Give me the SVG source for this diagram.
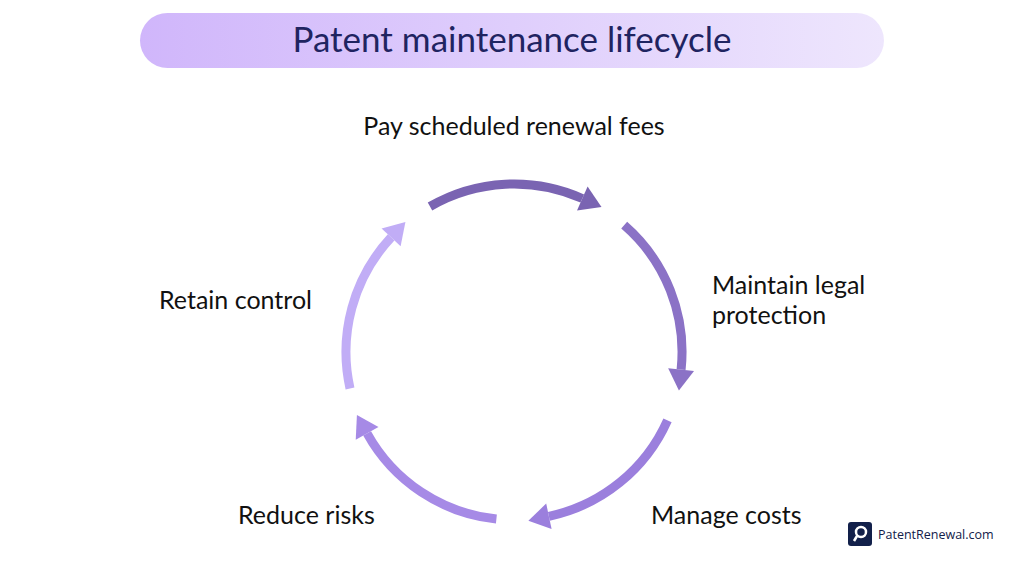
<svg xmlns="http://www.w3.org/2000/svg" width="1024" height="568" viewBox="0 0 1024 568">
<defs>
<linearGradient id="tg" x1="0" y1="0" x2="1" y2="0"><stop offset="0" stop-color="#d0b6fb"/><stop offset="1" stop-color="#eee6fd"/></linearGradient>
<marker id="a1" markerUnits="userSpaceOnUse" markerWidth="30" markerHeight="30" viewBox="0 -15 22 30" refX="0" refY="0" orient="auto" overflow="visible"><path d="M0,-13 L21,0 L0,13 z" fill="#7a64b2"/></marker>
<marker id="a2" markerUnits="userSpaceOnUse" markerWidth="30" markerHeight="30" viewBox="0 -15 22 30" refX="0" refY="0" orient="auto" overflow="visible"><path d="M0,-13 L21,0 L0,13 z" fill="#8b72c6"/></marker>
<marker id="a3" markerUnits="userSpaceOnUse" markerWidth="30" markerHeight="30" viewBox="0 -15 22 30" refX="0" refY="0" orient="auto" overflow="visible"><path d="M0,-13 L21,0 L0,13 z" fill="#9b7fdd"/></marker>
<marker id="a4" markerUnits="userSpaceOnUse" markerWidth="30" markerHeight="30" viewBox="0 -15 22 30" refX="0" refY="0" orient="auto" overflow="visible"><path d="M0,-13 L21,0 L0,13 z" fill="#a68ae6"/></marker>
<marker id="a5" markerUnits="userSpaceOnUse" markerWidth="30" markerHeight="30" viewBox="0 -15 22 30" refX="0" refY="0" orient="auto" overflow="visible"><path d="M0,-13 L21,0 L0,13 z" fill="#c1adf6"/></marker>
</defs>
<style>
.lbl{font-family:Lato,"Liberation Sans",sans-serif;font-size:25px;fill:#111}
.arc{fill:none;stroke-width:9}
</style>
<rect width="1024" height="568" fill="#fff"/>
<g id="title"><rect x="140" y="13" width="744" height="55" rx="27.5" fill="url(#tg)"/>
<text x="512" y="52" text-anchor="middle" font-family="Lato,'Liberation Sans',sans-serif" font-size="35" fill="#1f2461">Patent maintenance lifecycle</text></g>
<g id="connectors">
<path class="arc" stroke="#7a64b2" marker-end="url(#a1)" d="M430,206.5 A168,168 0 0 1 582.3,198.5"/>
<path class="arc" stroke="#8b72c6" marker-end="url(#a2)" d="M624.2,225.2 A168,168 0 0 1 681.1,369.6"/>
<path class="arc" stroke="#9b7fdd" marker-end="url(#a3)" d="M667.5,420.3 A168,168 0 0 1 548.9,516.3"/>
<path class="arc" stroke="#a68ae6" marker-end="url(#a4)" d="M496.4,519.1 A168,168 0 0 1 367.1,433.4"/>
<path class="arc" stroke="#c1adf6" marker-end="url(#a5)" d="M350,388.4 A168,168 0 0 1 391.1,237.4"/>
</g>
<g id="n1"><text class="lbl" x="514" y="135" text-anchor="middle">Pay scheduled renewal fees</text></g>
<g id="n2"><text class="lbl" x="712" y="294">Maintain legal</text><text class="lbl" x="712" y="324">protection</text></g>
<g id="n3"><text class="lbl" x="651" y="524">Manage costs</text></g>
<g id="n4"><text class="lbl" x="238" y="524">Reduce risks</text></g>
<g id="n5"><text class="lbl" x="159" y="309">Retain control</text></g>
<g id="logo"><rect x="848" y="522" width="24" height="24" rx="3" fill="#12204a"/>
<circle cx="861" cy="532" r="5" fill="none" stroke="#fff" stroke-width="2.5"/><line x1="857" y1="536" x2="854" y2="541" stroke="#fff" stroke-width="2.5"/>
<text x="878" y="539" font-family="'Open Sans','Liberation Sans',sans-serif" font-size="12.5" fill="#12204a">PatentRenewal.com</text></g>
</svg>
